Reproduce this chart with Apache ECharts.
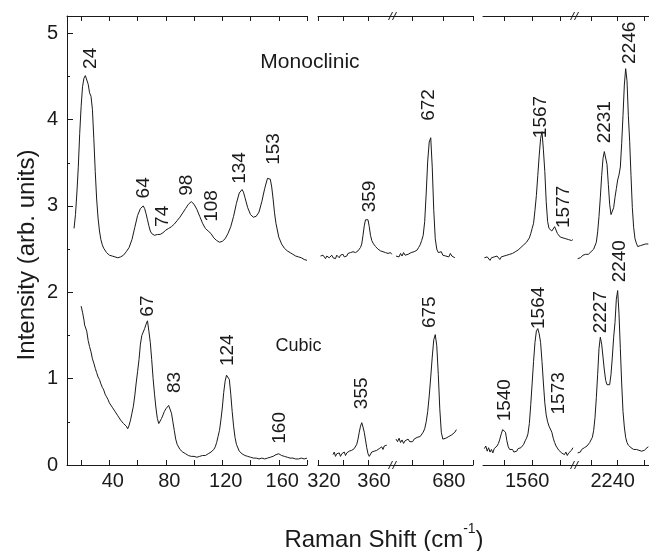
<!DOCTYPE html>
<html>
<head>
<meta charset="utf-8">
<script src="https://cdn.jsdelivr.net/npm/echarts@6/dist/echarts.min.js"></script>
<style>
  html, body { margin: 0; padding: 0; background: #fff; }
  #chart { width: 649px; height: 551px; }
</style>
</head>
<body>
<div id="chart"></div>
<script>
// ---- Raman spectra: [shift (cm-1), intensity (arb. units)] ----

// Monoclinic phase
const monoLow = [[15,2.74],[16,2.90],[17,3.15],[18,3.45],[19,3.84],[20,4.15],[21,4.38],[22,4.48],[23,4.51],[24,4.50],[25,4.41],[26,4.31],[27,4.27],[28,4.12],[29,3.78],[30,3.40],[31,3.08],[32,2.86],[33,2.71],[34,2.61],[35,2.55],[36,2.51],[38,2.46],[40,2.43],[42,2.42],[44,2.41],[46,2.40],[48,2.41],[50,2.43],[52,2.47],[54,2.52],[56,2.61],[58,2.75],[60,2.89],[62,2.97],[63,2.99],[64,3.00],[65,2.97],[66,2.91],[67,2.84],[68,2.77],[69,2.71],[70,2.68],[72,2.66],[74,2.67],[76,2.67],[78,2.69],[80,2.72],[82,2.74],[84,2.76],[86,2.79],[88,2.83],[90,2.87],[92,2.92],[94,2.97],[96,3.02],[98,3.05],[100,3.02],[102,2.96],[104,2.88],[106,2.80],[108,2.74],[110,2.71],[112,2.68],[114,2.63],[116,2.60],[118,2.58],[120,2.59],[122,2.62],[124,2.68],[126,2.76],[128,2.88],[130,3.03],[132,3.15],[134,3.19],[135,3.16],[136,3.10],[138,2.98],[140,2.90],[142,2.87],[144,2.88],[146,2.93],[148,3.05],[150,3.20],[152,3.32],[153,3.34],[154,3.31],[155,3.22],[156,3.08],[157,2.92],[158,2.80],[160,2.64],[162,2.56],[164,2.51],[166,2.48],[168,2.46],[170,2.44],[172,2.42],[174,2.41],[176,2.40],[178,2.38],[180,2.37]];
const mono360 = [[322,2.42],[323,2.40],[324,2.43],[325,2.41],[326,2.39],[327,2.42],[328,2.44],[329,2.40],[330,2.41],[331,2.43],[332,2.40],[333,2.42],[334,2.39],[335,2.43],[336,2.41],[337,2.40],[338,2.43],[339,2.42],[340,2.44],[341,2.41],[342,2.43],[343,2.42],[344,2.45],[345,2.43],[346,2.46],[347,2.44],[348,2.47],[349,2.45],[350,2.46],[351,2.47],[352,2.48],[353,2.50],[354,2.52],[355,2.56],[356,2.66],[357,2.77],[358,2.84],[359,2.86],[360,2.84],[361,2.76],[362,2.66],[363,2.60],[364,2.57],[365,2.55],[366,2.53],[367,2.52],[368,2.50],[369,2.51],[370,2.48],[371,2.50],[372,2.47],[373,2.49],[374,2.46],[375,2.48],[376,2.45],[377,2.47],[378,2.46],[379,2.44]];
const mono680 = [[649,2.42],[650,2.44],[651,2.41],[652,2.45],[653,2.42],[654,2.46],[655,2.43],[656,2.41],[657,2.44],[658,2.42],[659,2.46],[660,2.44],[661,2.47],[662,2.45],[663,2.49],[664,2.52],[665,2.55],[666,2.60],[667,2.66],[668,2.82],[669,3.15],[670,3.52],[671,3.74],[672,3.79],[673,3.45],[674,2.95],[675,2.62],[676,2.50],[677,2.46],[678,2.44],[679,2.47],[680,2.43],[681,2.45],[682,2.42],[683,2.44],[684,2.41],[685,2.45],[686,2.42],[687,2.44],[688,2.40]];
const mono1560 = [[1526,2.40],[1527,2.38],[1528,2.41],[1529,2.39],[1530,2.37],[1531,2.40],[1532,2.38],[1533,2.41],[1534,2.39],[1535,2.42],[1536,2.40],[1537,2.38],[1538,2.41],[1539,2.39],[1540,2.42],[1541,2.40],[1542,2.43],[1543,2.41],[1544,2.44],[1545,2.42],[1546,2.45],[1547,2.44],[1548,2.47],[1549,2.46],[1550,2.49],[1551,2.50],[1552,2.52],[1553,2.53],[1554,2.55],[1555,2.56],[1556,2.58],[1557,2.60],[1558,2.63],[1559,2.68],[1560,2.74],[1561,2.80],[1562,2.95],[1563,3.12],[1564,3.35],[1565,3.58],[1566,3.78],[1567,3.86],[1568,3.65],[1569,3.40],[1570,3.05],[1571,2.82],[1572,2.74],[1573,2.72],[1574,2.71],[1575,2.73],[1576,2.76],[1577,2.75],[1578,2.68],[1579,2.66],[1580,2.64],[1581,2.65],[1582,2.63],[1583,2.64],[1584,2.62],[1585,2.63],[1586,2.61],[1587,2.62],[1588,2.60],[1589,2.61]];
const mono2240 = [[2210,2.39],[2211,2.41],[2212,2.40],[2213,2.42],[2214,2.43],[2215,2.42],[2216,2.44],[2217,2.45],[2218,2.44],[2219,2.46],[2220,2.47],[2221,2.48],[2222,2.50],[2223,2.52],[2224,2.58],[2225,2.70],[2226,2.88],[2227,3.10],[2228,3.35],[2229,3.55],[2230,3.63],[2231,3.62],[2232,3.48],[2233,3.25],[2234,3.02],[2235,2.90],[2236,2.88],[2237,2.98],[2238,3.10],[2239,3.20],[2240,3.30],[2241,3.36],[2242,3.45],[2243,3.72],[2244,4.05],[2245,4.40],[2246,4.59],[2247,4.45],[2248,4.05],[2249,3.75],[2250,3.35],[2251,2.98],[2252,2.75],[2253,2.62],[2254,2.57],[2255,2.53],[2256,2.52],[2257,2.54],[2258,2.53],[2259,2.55],[2260,2.54],[2261,2.56],[2262,2.55],[2263,2.56]];

// Cubic phase
const cubicLow = [[20,1.84],[21,1.77],[22,1.68],[22.5,1.62],[23,1.60],[24,1.55],[25,1.44],[26,1.37],[27,1.31],[28,1.23],[29,1.18],[30,1.12],[31,1.07],[32,1.02],[33,0.99],[34,0.94],[35,0.90],[36,0.87],[37,0.82],[38,0.79],[39,0.76],[40,0.72],[41,0.70],[42,0.67],[43,0.65],[44,0.62],[45,0.60],[46,0.57],[47,0.55],[48,0.52],[49,0.50],[50,0.48],[51,0.46],[52,0.45],[53,0.42],[54,0.46],[55,0.52],[56,0.60],[57,0.68],[58,0.80],[59,0.95],[60,1.08],[61,1.22],[62,1.40],[63,1.50],[64,1.54],[65,1.58],[66,1.63],[67,1.67],[68,1.55],[69,1.42],[70,1.22],[71,1.00],[72,0.82],[73,0.66],[74,0.54],[75,0.48],[76,0.50],[77,0.54],[78,0.58],[79,0.62],[80,0.65],[81,0.67],[82,0.69],[83,0.68],[84,0.60],[85,0.50],[86,0.40],[87,0.30],[88,0.24],[90,0.18],[92,0.15],[94,0.13],[96,0.11],[98,0.10],[100,0.10],[102,0.09],[104,0.10],[106,0.11],[108,0.11],[110,0.13],[112,0.15],[114,0.18],[115,0.21],[116,0.26],[117,0.33],[118,0.40],[119,0.52],[120,0.66],[121,0.84],[122,0.97],[123,1.04],[124,1.05],[125,0.99],[126,0.82],[127,0.62],[128,0.45],[129,0.32],[130,0.24],[132,0.16],[134,0.13],[136,0.11],[138,0.10],[140,0.09],[142,0.08],[144,0.08],[146,0.07],[148,0.08],[150,0.07],[152,0.08],[154,0.09],[156,0.10],[158,0.12],[160,0.13],[162,0.11],[164,0.10],[166,0.09],[168,0.08],[170,0.08],[172,0.07],[174,0.07],[176,0.08],[178,0.07],[180,0.08]];
const cubic360 = [[332,0.12],[333,0.15],[334,0.10],[335,0.13],[336,0.11],[337,0.14],[338,0.10],[339,0.13],[340,0.12],[341,0.15],[342,0.11],[343,0.14],[344,0.13],[345,0.16],[346,0.14],[347,0.17],[348,0.15],[349,0.19],[350,0.21],[351,0.24],[352,0.30],[353,0.38],[354,0.45],[355,0.49],[356,0.44],[357,0.38],[358,0.29],[359,0.20],[360,0.13],[361,0.10],[362,0.12],[363,0.15],[364,0.13],[365,0.16],[366,0.14],[367,0.17],[368,0.15],[369,0.19],[370,0.17],[371,0.21],[372,0.18],[373,0.22],[374,0.20],[375,0.23]];
const cubic680 = [[649,0.30],[650,0.27],[651,0.31],[652,0.26],[653,0.29],[654,0.25],[655,0.28],[656,0.26],[657,0.30],[658,0.27],[659,0.29],[660,0.27],[661,0.30],[662,0.28],[663,0.32],[664,0.30],[665,0.33],[666,0.34],[667,0.38],[668,0.42],[669,0.50],[670,0.62],[671,0.80],[672,1.02],[673,1.25],[674,1.45],[675,1.51],[676,1.38],[677,1.05],[678,0.65],[679,0.38],[680,0.30],[681,0.28],[682,0.31],[683,0.29],[684,0.33],[685,0.31],[686,0.35],[687,0.33],[688,0.38],[689,0.41]];
const cubic1560 = [[1526,0.19],[1527,0.22],[1528,0.16],[1529,0.20],[1530,0.15],[1531,0.18],[1532,0.14],[1533,0.19],[1534,0.17],[1535,0.22],[1536,0.25],[1537,0.30],[1538,0.36],[1539,0.41],[1540,0.43],[1541,0.38],[1542,0.28],[1543,0.21],[1544,0.18],[1545,0.16],[1546,0.18],[1547,0.15],[1548,0.17],[1549,0.16],[1550,0.19],[1551,0.18],[1552,0.20],[1553,0.22],[1554,0.24],[1555,0.28],[1556,0.31],[1557,0.36],[1558,0.48],[1559,0.70],[1560,0.95],[1561,1.20],[1562,1.42],[1563,1.55],[1564,1.58],[1565,1.52],[1566,1.42],[1567,1.20],[1568,0.95],[1569,0.72],[1570,0.58],[1571,0.50],[1572,0.45],[1573,0.43],[1574,0.38],[1575,0.31],[1576,0.26],[1577,0.22],[1578,0.20],[1579,0.17],[1580,0.19],[1581,0.14],[1582,0.16],[1583,0.12],[1584,0.15],[1585,0.11],[1586,0.14],[1587,0.13],[1588,0.17],[1589,0.20]];
const cubic2240 = [[2210,0.14],[2211,0.16],[2212,0.15],[2213,0.18],[2214,0.19],[2215,0.20],[2216,0.21],[2217,0.22],[2218,0.24],[2219,0.26],[2220,0.28],[2221,0.32],[2222,0.40],[2223,0.55],[2224,0.78],[2225,1.05],[2226,1.35],[2227,1.48],[2228,1.40],[2229,1.25],[2230,1.10],[2231,0.98],[2232,0.93],[2233,0.91],[2234,0.93],[2235,1.05],[2236,1.25],[2237,1.48],[2238,1.65],[2239,1.92],[2240,2.02],[2241,1.75],[2242,1.35],[2243,0.95],[2244,0.62],[2245,0.44],[2246,0.32],[2247,0.26],[2248,0.23],[2249,0.21],[2250,0.20],[2251,0.19],[2252,0.18],[2253,0.20],[2254,0.18],[2255,0.19],[2256,0.17],[2257,0.18],[2258,0.16],[2259,0.18],[2260,0.17],[2261,0.19],[2262,0.20],[2263,0.21]];

// Assigned peak positions (cm-1)
const monoPeaks = [24, 64, 74, 98, 108, 134, 153, 359, 672, 1567, 1577, 2231, 2246];
const cubicPeaks = [67, 83, 124, 160, 355, 675, 1540, 1564, 1573, 2227, 2240];

// Shift ranges of the five broken-axis segments
const segMin = [10, 320, 647, 1525, 2208];
const segMax = [180, 380, 700, 1590.5, 2263.5];
// Tick values and tick labels on the shift axis
const shiftTicks = [[20,40,60,80,100,120,140,160,180],[320,340,360],[660,680,700],[1540,1560,1580],[2220,2240,2260]];
const shiftTickLabels = [[40,80,120,160],[320,360],[680],[1560],[2240]];
// Intensity axis
const yMax = 5.2;
const yTicks = [0, 1, 2, 3, 4, 5];
const yMinorTicks = [0.5, 1.5, 2.5, 3.5, 4.5];

const monoSegments = [monoLow, mono360, mono680, mono1560, mono2240];
const cubicSegments = [cubicLow, cubic360, cubic680, cubic1560, cubic2240];

// ---- layout ----
const FONT = '"Liberation Sans", Arial, Helvetica, sans-serif';
const INK = '#1a1a1a';
const plotTop = 16, plotHeight = 449;
const frames = [
  { left: 67,  width: 240, pad: [0, 0, 0, 7] },
  { left: 318, width: 75,  pad: [0, 0, 0, 12] },
  { left: 393, width: 80,  pad: [0, 0, 0, 12] },
  { left: 483, width: 92,  pad: [0, 10, 0, 0] },
  { left: 575, width: 74,  pad: [0, 10, 0, 0] }
];
// peak tag placement: [horizontal nudge in px, intensity level of tag centre]
const monoTagPlace = [[4,4.71],[1,3.21],[5,2.88],[-4,3.24],[6,3.00],[-2,3.44],[5,3.66],[3,3.11],[-2,4.17],[-1,4.03],[7.5,2.99],[-1,3.97],[4,4.89]];
const cubicTagPlace = [[0,1.84],[5,0.955],[0,1.33],[1,0.43],[0,0.83],[-5,1.77],[1,0.75],[1,1.82],[8,0.83],[0,1.77],[2,2.36]];

const axisLineStyle = { color: INK, width: 1 };
const plain = v => String(v);

const grids = frames.map(f => ({ left: f.left, width: f.width, top: plotTop, height: plotHeight }));

const xAxes = [];
frames.forEach((f, i) => {
  xAxes.push({
    type: 'value', gridIndex: i, position: 'bottom', min: segMin[i], max: segMax[i],
    axisLine: { show: true, onZero: false, lineStyle: axisLineStyle },
    axisTick: { show: true, inside: true, length: 5, customValues: shiftTicks[i], lineStyle: axisLineStyle },
    axisLabel: { show: true, customValues: shiftTickLabels[i], formatter: plain, fontSize: 20, fontFamily: FONT, color: INK, margin: 6, padding: f.pad },
    splitLine: { show: false }
  });
});
frames.forEach((f, i) => {
  xAxes.push({
    type: 'value', gridIndex: i, position: 'top', min: segMin[i], max: segMax[i],
    axisLine: { show: true, onZero: false, lineStyle: axisLineStyle },
    axisTick: { show: true, inside: true, length: 5, customValues: shiftTicks[i], lineStyle: axisLineStyle },
    axisLabel: { show: false },
    splitLine: { show: false }
  });
});

const yAxes = frames.map((f, i) => i === 0 ? {
  type: 'value', gridIndex: 0, min: 0, max: yMax, position: 'left',
  axisLine: { show: true, lineStyle: axisLineStyle },
  axisTick: { show: true, inside: true, length: 6, customValues: yTicks, lineStyle: axisLineStyle },
  axisLabel: { show: true, customValues: yTicks, formatter: plain, fontSize: 20, fontFamily: FONT, color: INK, margin: 9 },
  splitLine: { show: false }
} : { type: 'value', gridIndex: i, min: 0, max: yMax, show: false });
// half-unit ticks on the intensity axis
yAxes.push({
  type: 'value', gridIndex: 0, min: 0, max: yMax, position: 'left',
  axisLine: { show: false },
  axisTick: { show: true, inside: true, length: 3, customValues: yMinorTicks, lineStyle: axisLineStyle },
  axisLabel: { show: false }, splitLine: { show: false }
});

const series = [];
function addSpectrum(name, segs) {
  segs.forEach((data, i) => {
    series.push({
      name: name, type: 'line', xAxisIndex: i, yAxisIndex: i, data: data,
      showSymbol: false, symbol: 'none', smooth: false, clip: true,
      lineStyle: { color: INK, width: 1 }, emphasis: { disabled: true }
    });
  });
}
addSpectrum('Monoclinic', monoSegments);
addSpectrum('Cubic', cubicSegments);

const chart = echarts.init(document.getElementById('chart'), null, { renderer: 'canvas' });
chart.setOption({
  animation: false,
  backgroundColor: '#ffffff',
  grid: grids, xAxis: xAxes, yAxis: yAxes, series: series
});

// ---- annotations ----
function segOf(v) {
  for (let i = 0; i < segMin.length; i++) if (v >= segMin[i] && v <= segMax[i]) return i;
  return 0;
}
function toPx(seg, x, y) { return chart.convertToPixel({ xAxisIndex: seg, yAxisIndex: seg }, [x, y]); }
function textStyle(text, size) {
  return { text: text, fontSize: size, fontFamily: FONT, fill: INK, align: 'center', verticalAlign: 'middle' };
}

const graphics = [];
function tag(value, place) {
  const s = segOf(value);
  const p = toPx(s, value, place[1]);
  graphics.push({
    type: 'text', x: p[0] + place[0], y: p[1], rotation: Math.PI / 2, silent: true,
    style: textStyle(String(value), 19)
  });
}
monoPeaks.forEach((v, k) => tag(v, monoTagPlace[k]));
cubicPeaks.forEach((v, k) => tag(v, cubicTagPlace[k]));

const pm = toPx(0, 182.1, 4.67);
graphics.push({ type: 'text', x: pm[0], y: pm[1], silent: true, style: textStyle('Monoclinic', 21) });
const pc = toPx(0, 173.9, 1.38);
graphics.push({ type: 'text', x: pc[0], y: pc[1], silent: true, style: textStyle('Cubic', 18) });

// axis titles
graphics.push({ type: 'text', x: 27, y: 255, rotation: Math.PI / 2, silent: true,
  style: textStyle('Intensity (arb. units)', 24) });
graphics.push({ type: 'text', x: 384, y: 537, silent: true,
  style: {
    text: '{a|Raman Shift (cm}{s|-1}{a|)}', align: 'center', verticalAlign: 'middle', fill: INK,
    rich: {
      a: { fontSize: 24, fontFamily: FONT, color: INK, lineHeight: 30, verticalAlign: 'bottom' },
      s: { fontSize: 14, fontFamily: FONT, color: INK, lineHeight: 14, verticalAlign: 'top' }
    }
  } });

// axis break marks "//"
[2, 4].forEach(seg => {
  const xb = frames[seg].left;
  [plotTop, plotTop + plotHeight].forEach(yb => {
    [-2.5, 1.5].forEach(dx => {
      graphics.push({ type: 'line', silent: true,
        shape: { x1: xb + dx - 2, y1: yb + 4, x2: xb + dx + 2, y2: yb - 4 },
        style: { stroke: INK, lineWidth: 1 } });
    });
  });
});

chart.setOption({ graphic: graphics });
</script>
</body>
</html>
